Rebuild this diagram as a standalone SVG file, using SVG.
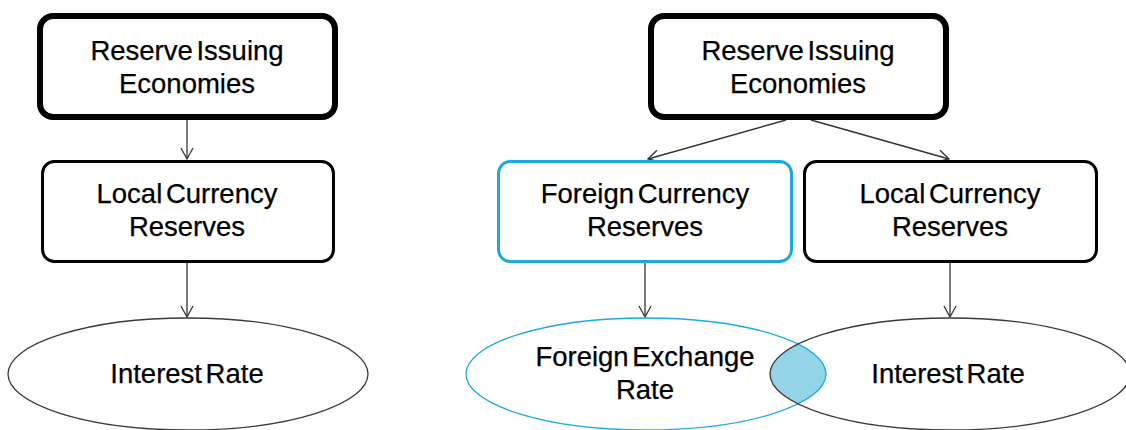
<svg xmlns="http://www.w3.org/2000/svg" width="1126" height="430" viewBox="0 0 1126 430">
<defs>
<style>
.t{font-family:"Liberation Sans",Arial,sans-serif;font-size:27.5px;word-spacing:-4px;fill:#000;stroke:#000;stroke-width:0.25;text-anchor:middle}
.top{fill:#fff;stroke:#000;stroke-width:6}
.box{fill:#fff;stroke:#000;stroke-width:3}
.blue{fill:#fff;stroke:#1BA9E1;stroke-width:3}
.ell{fill:none;stroke:#3a3a3a;stroke-width:1.3}
.ellb{fill:none;stroke:#1BA9E1;stroke-width:1.3}
.c{fill:none;stroke:#333;stroke-width:1.3}
</style>
<marker id="a" markerUnits="userSpaceOnUse" markerWidth="14" markerHeight="14" viewBox="-12 -7 14 14" refX="0" refY="0" orient="auto">
<path d="M-11,-6 L0,0 L-11,6" fill="none" stroke="#333" stroke-width="1.3"/>
</marker>
<clipPath id="fxclip"><ellipse cx="646" cy="374" rx="180" ry="56"/></clipPath>
</defs>
<rect width="1126" height="430" fill="#fff"/>
<g id="connectors">
<line class="c" x1="187" y1="120" x2="187" y2="159" marker-end="url(#a)"/>
<line class="c" x1="187" y1="263" x2="187" y2="317" marker-end="url(#a)"/>
<line class="c" x1="786" y1="120" x2="648" y2="159" marker-end="url(#a)"/>
<line class="c" x1="811" y1="120" x2="949" y2="159" marker-end="url(#a)"/>
<line class="c" x1="645" y1="263" x2="645" y2="317" marker-end="url(#a)"/>
<line class="c" x1="950" y1="263" x2="950" y2="317" marker-end="url(#a)"/>
</g>
<g id="left-reserve">
<rect class="top" x="40" y="16" width="295" height="101" rx="13"/>
<text class="t" x="187" y="60">Reserve Issuing</text>
<text class="t" x="187" y="93">Economies</text>
</g>
<g id="left-local">
<rect class="box" x="42.5" y="161.5" width="291" height="100" rx="12"/>
<text class="t" x="187" y="203">Local Currency</text>
<text class="t" x="187" y="236">Reserves</text>
</g>
<g id="left-interest">
<ellipse class="ell" cx="188" cy="374" rx="180" ry="56"/>
<text class="t" x="187" y="383">Interest Rate</text>
</g>
<g id="right-reserve">
<rect class="top" x="651" y="16" width="295" height="101" rx="13"/>
<text class="t" x="798" y="60">Reserve Issuing</text>
<text class="t" x="798" y="93">Economies</text>
</g>
<g id="right-foreign">
<rect class="blue" x="498.5" y="161.5" width="293" height="100" rx="12"/>
<text class="t" x="645" y="203">Foreign Currency</text>
<text class="t" x="645" y="236">Reserves</text>
</g>
<g id="right-local">
<rect class="box" x="804.5" y="161.5" width="292" height="100" rx="12"/>
<text class="t" x="950" y="203">Local Currency</text>
<text class="t" x="950" y="236">Reserves</text>
</g>
<g id="overlap">
<ellipse cx="950" cy="374" rx="180" ry="56" fill="#93D4E6" clip-path="url(#fxclip)"/>
</g>
<g id="right-fx">
<ellipse class="ellb" cx="646" cy="374" rx="180" ry="56"/>
<text class="t" x="645" y="366">Foreign Exchange</text>
<text class="t" x="645" y="399">Rate</text>
</g>
<g id="right-interest">
<ellipse class="ell" cx="950" cy="374" rx="180" ry="56"/>
<text class="t" x="948" y="383">Interest Rate</text>
</g>
</svg>
